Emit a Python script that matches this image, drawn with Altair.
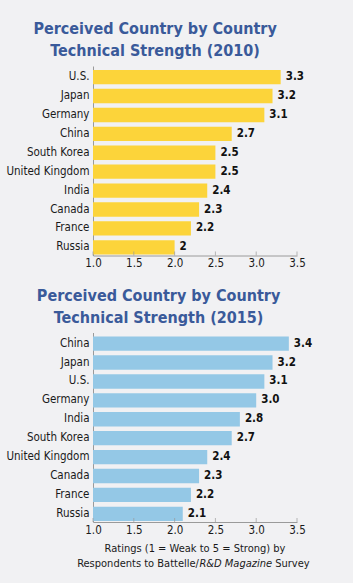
import altair as alt
import pandas as pd

countries_2010 = ["U.S.", "Japan", "Germany", "China", "South Korea", "United Kingdom", "India", "Canada", "France", "Russia"]
values_2010 = [3.3, 3.2, 3.1, 2.7, 2.5, 2.5, 2.4, 2.3, 2.2, 2.0]
labels_2010 = ["3.3", "3.2", "3.1", "2.7", "2.5", "2.5", "2.4", "2.3", "2.2", "2"]

countries_2015 = ["China", "Japan", "U.S.", "Germany", "India", "South Korea", "United Kingdom", "Canada", "France", "Russia"]
values_2015 = [3.4, 3.2, 3.1, 3.0, 2.8, 2.7, 2.4, 2.3, 2.2, 2.1]
labels_2015 = ["3.4", "3.2", "3.1", "3.0", "2.8", "2.7", "2.4", "2.3", "2.2", "2.1"]

x_ticks = [1.0, 1.5, 2.0, 2.5, 3.0, 3.5]

titles_2010 = ["Perceived Country by Country", "Technical Strength (2010)"]
titles_2015 = ["Perceived Country by Country", "Technical Strength (2015)"]
note_line1 = "Ratings (1 = Weak to 5 = Strong) by"
note_line2 = ["Respondents to Battelle/", "R&D Magazine", "Survey"]

FONT = "DejaVu Sans Condensed, Liberation Sans, sans-serif"
TITLE_COLOR = "#3a5a9a"
AXIS_GREY = "#9a9a9a"
TEXT = "#1a1a1a"
W, H = 204, 189.5
FS = 11.5


def panel(countries, values, labels, color, title):
    df = pd.DataFrame({"country": countries, "value": values, "label": labels})
    y = alt.Y("country:N", sort=countries, title=None,
              scale=alt.Scale(paddingInner=0.24, paddingOuter=0.13, align=0.8),
              axis=alt.Axis(ticks=False, tickSize=0, domain=True, domainColor=AXIS_GREY,
                            domainWidth=1, labelFont=FONT, labelFontSize=FS,
                            labelColor=TEXT, labelPadding=4, minExtent=88, maxExtent=88))
    x = alt.X("value:Q", title=None,
              scale=alt.Scale(domain=[1.0, 3.5], zero=False, nice=False),
              axis=alt.Axis(values=x_ticks, format=".1f", grid=False, ticks=False, tickSize=0,
                            labelFlush=False, domainColor=AXIS_GREY,
                            labelFont=FONT, labelFontSize=FS, labelColor=TEXT,
                            labelPadding=2))
    bars = alt.Chart(df).mark_bar(color=color, clip=False).encode(
        y=y,
        x=x,
        x2=alt.datum(1.0),
    )
    text = alt.Chart(df).mark_text(align="left", baseline="middle", dx=5, font=FONT,
                                   fontSize=FS, fontWeight="bold", color="#111111").encode(
        y=alt.Y("country:N", sort=countries),
        x=alt.X("value:Q"),
        text="label:N",
    )
    ticks = alt.Chart(pd.DataFrame({"t": x_ticks})).mark_tick(
        orient="vertical", size=4, thickness=1, color=AXIS_GREY
    ).encode(x=alt.X("t:Q"), y=alt.value(H - 2))
    return [bars, text, ticks], title


def finish(layers, title):
    return alt.layer(*layers).properties(
        width=W, height=H,
        title=alt.TitleParams(title, font=FONT, fontSize=16, fontWeight="bold",
                              color=TITLE_COLOR, anchor="middle", frame="bounds",
                              lineHeight=22, offset=7),
    )


top_layers, top_title = panel(countries_2010, values_2010, labels_2010, "#fcd43a", titles_2010)
top = finish(top_layers, top_title)

bot_layers, bot_title = panel(countries_2015, values_2015, labels_2015, "#94c8e6", titles_2015)

NFS = 11
note_df = pd.DataFrame({"t": [note_line1]})
note1 = alt.Chart(note_df).mark_text(font=FONT, fontSize=NFS, color=TEXT, align="center",
                                     baseline="middle").encode(
    text="t:N", x=alt.value(W / 2), y=alt.value(H + 27))
# second line: regular / italic / regular pieces
w_a, w_b = 122.3, 72.7
start = W / 2 - (w_a + w_b + 3.1 + 37.6) / 2
note2a = alt.Chart(pd.DataFrame({"t": [note_line2[0]]})).mark_text(
    font=FONT, fontSize=NFS, color=TEXT, align="left", baseline="middle").encode(
    text="t:N", x=alt.value(start), y=alt.value(H + 42))
note2b = alt.Chart(pd.DataFrame({"t": [note_line2[1]]})).mark_text(
    font=FONT, fontSize=NFS, color=TEXT, align="left", baseline="middle", fontStyle="italic").encode(
    text="t:N", x=alt.value(start + w_a), y=alt.value(H + 42))
note2c = alt.Chart(pd.DataFrame({"t": [note_line2[2]]})).mark_text(
    font=FONT, fontSize=NFS, color=TEXT, align="left", baseline="middle").encode(
    text="t:N", x=alt.value(start + w_a + w_b + 3.1), y=alt.value(H + 42))

bottom = finish(bot_layers + [note1, note2a, note2b, note2c], bot_title)

chart = alt.vconcat(top, bottom, spacing=18.5).properties(
    background="#f1f1f3",
    padding={"left": 5, "top": 21, "right": 40, "bottom": 14},
).configure_view(stroke=None)

chart.save("out.html", embed_options={"renderer": "svg", "actions": False})
